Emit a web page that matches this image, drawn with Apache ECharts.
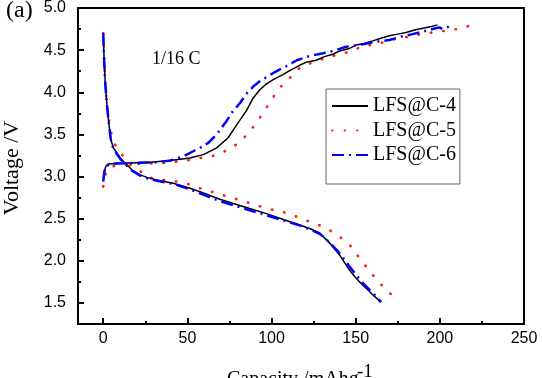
<!DOCTYPE html>
<html>
<head>
<meta charset="utf-8">
<script src="https://cdn.jsdelivr.net/npm/echarts@6/dist/echarts.min.js"></script>
<style>
  html, body { margin: 0; padding: 0; background: #fff; }
  #chart { width: 542px; height: 378px; }
</style>
</head>
<body>
<div id="chart"></div>
<script>
// capacity (mAh/g), voltage (V)
var c4Charge = [[0,2.97],[0.5,3.05],[1.5,3.12],[3,3.15],[8,3.155],[15,3.16],[27.8,3.17],[39.7,3.19],[51.5,3.22],[59.5,3.26],[67.4,3.34],[74.2,3.46],[78.2,3.58],[81.2,3.67],[85,3.78],[89,3.93],[93,4.03],[97,4.1],[101,4.15],[106.8,4.21],[111,4.26],[116.7,4.32],[121,4.36],[126.6,4.38],[131,4.42],[136.4,4.45],[140.4,4.49],[146.3,4.52],[150.3,4.56],[155,4.58],[160.1,4.61],[165,4.64],[170,4.67],[175,4.69],[179.9,4.71],[185,4.74],[189.8,4.76],[195,4.78],[198.6,4.8]];
var c4Discharge = [[0,4.7],[0.5,4.4],[1.2,4.1],[2.2,3.85],[3.1,3.67],[4.5,3.44],[6,3.34],[8.1,3.28],[10.5,3.21],[13,3.16],[17,3.08],[21.9,3.02],[26,2.99],[31.8,2.96],[41.6,2.92],[51.5,2.86],[57.5,2.82],[69.3,2.73],[77.2,2.68],[87,2.62],[97,2.56],[107,2.49],[116.7,2.425],[123,2.38],[128.6,2.33],[134.5,2.21],[140.4,2.07],[146.3,1.89],[150,1.8],[154.2,1.71],[157,1.66],[161,1.58],[165.1,1.51]];

var c5Charge = [[0,2.88],[1.2,3.02],[3,3.1],[7.1,3.13],[21,3.15],[35.7,3.16],[49.6,3.19],[57.5,3.22],[64.4,3.24],[71.3,3.29],[74.2,3.32],[80.7,3.4],[86.1,3.51],[91,3.64],[95.9,3.78],[99.8,3.91],[104.7,4.05],[110.3,4.16],[116.7,4.29],[122.6,4.34],[129.6,4.39],[136.4,4.43],[146.3,4.48],[153.3,4.54],[161.1,4.57],[168.1,4.6],[175,4.64],[182,4.66],[188.8,4.69],[195.7,4.71],[203.2,4.73],[210.5,4.75],[214.5,4.77],[221,4.81]];
var c5Discharge = [[0,4.7],[0.5,4.4],[1.2,4.1],[2.2,3.85],[4.1,3.56],[7,3.38],[11.1,3.26],[16,3.14],[22.9,3.05],[28.8,2.98],[35.7,2.96],[43.7,2.94],[50.5,2.91],[57.5,2.86],[64.4,2.82],[69.3,2.79],[76.2,2.75],[83.1,2.71],[89,2.67],[96,2.63],[103.9,2.59],[110.8,2.56],[117.7,2.5],[124.6,2.45],[131.5,2.4],[137.4,2.33],[141.4,2.27],[147.3,2.17],[152.3,2.03],[157.8,1.89],[163.1,1.76],[168.4,1.65],[174,1.55]];

var c6Charge = [[0,2.94],[0.6,3.05],[1.5,3.12],[2.5,3.14],[5,3.155],[16,3.16],[31.8,3.17],[40,3.19],[47.6,3.24],[53.5,3.3],[57.5,3.34],[62.4,3.4],[67.4,3.5],[73.3,3.66],[77.2,3.78],[81.2,3.87],[85,3.98],[89.2,4.07],[93,4.13],[97,4.18],[102,4.24],[108.8,4.31],[115,4.38],[122.5,4.43],[130,4.46],[136.4,4.49],[144.4,4.54],[154.2,4.57],[162,4.6],[170,4.62],[177,4.66],[183.8,4.69],[190,4.72],[195.7,4.75],[199.6,4.77],[201.6,4.75],[204,4.77],[207,4.79]];
var c6Discharge = [[0,4.7],[0.5,4.4],[1.2,4.1],[2.2,3.85],[3.1,3.67],[4.5,3.44],[6,3.33],[8,3.27],[10.5,3.2],[13,3.15],[17,3.07],[22,3.01],[26,2.98],[32,2.95],[42,2.91],[51.5,2.85],[57.5,2.8],[69.3,2.71],[77,2.66],[87,2.6],[97,2.54],[107,2.48],[116.7,2.42],[123,2.37],[128.6,2.32],[134.5,2.22],[140,2.1],[146,1.94],[150,1.84],[154,1.74],[158,1.66],[162,1.58],[165,1.51]];

var seriesNames = ['LFS@C-4', 'LFS@C-5', 'LFS@C-6'];
var xLabels = [0, 50, 100, 150, 200, 250];
var xMinor = [25, 75, 125, 175, 225];
var yLabels = [1.5, 2.0, 2.5, 3.0, 3.5, 4.0, 4.5, 5.0];
var yMinor = [1.75, 2.25, 2.75, 3.25, 3.75, 4.25, 4.75];

var serif = 'Liberation Serif, Times New Roman, serif';
var sans = 'Liberation Sans, Arial, sans-serif';

var styles = [
  { color: '#000000', width: 1.5, type: 'solid' },
  { color: '#ff1a1a', width: 2.6, type: [0.5, 12], cap: 'round' },
  { color: '#0000ff', width: 2.5, type: [12, 5, 2, 5] }
];

function makeLine(name, data, st) {
  return {
    name: name,
    type: 'line',
    data: data,
    showSymbol: false,
    symbol: 'none',
    animation: false,
    color: st.color,
    lineStyle: { color: st.color, width: st.width, type: st.type, cap: st.cap || 'butt' }
  };
}

var chart = echarts.init(document.getElementById('chart'));

function valueAxis(min, max, pos, major, ticks, labels, len) {
  return {
    type: 'value', min: min, max: max, position: pos,
    axisLine: { show: major, onZero: false, lineStyle: { color: '#000', width: 2 } },
    axisTick: { show: true, inside: true, length: len, lineStyle: { color: '#000', width: 2 }, customValues: ticks },
    axisLabel: labels,
    splitLine: { show: false }
  };
}

chart.setOption({
  animation: false,
  grid: {
    left: 78, right: 18, top: 8, bottom: 54,
    containLabel: false, outerBoundsMode: 'none',
    show: true, borderColor: '#000', borderWidth: 2, backgroundColor: 'transparent'
  },
  legend: {
    data: seriesNames,
    orient: 'vertical',
    left: 326, top: 89,
    padding: [7, 4, 19, 5],
    itemWidth: 36, itemHeight: 14, itemGap: 4.5,
    borderColor: '#666', borderWidth: 1,
    itemStyle: { opacity: 0 },
    textStyle: { fontFamily: serif, fontSize: 20, lineHeight: 20, color: '#000' }
  },
  xAxis: [
    valueAxis(-15, 250, 'bottom', true, xLabels,
      { show: true, customValues: xLabels, margin: 7, color: '#000', fontSize: 16, fontFamily: sans }, 6),
    valueAxis(-15, 250, 'bottom', false, xMinor, { show: false }, 3)
  ],
  yAxis: [
    valueAxis(1.25, 5.0, 'left', true, yLabels,
      { show: true, customValues: yLabels, margin: 12, color: '#000', fontSize: 16, fontFamily: sans,
        formatter: function (v) { return v.toFixed(1); } }, 6),
    valueAxis(1.25, 5.0, 'left', false, yMinor, { show: false }, 3)
  ],
  series: [
    makeLine(seriesNames[1], c5Charge, styles[1]),
    makeLine(seriesNames[1], c5Discharge, styles[1]),
    makeLine(seriesNames[0], c4Charge, styles[0]),
    makeLine(seriesNames[0], c4Discharge, styles[0]),
    makeLine(seriesNames[2], c6Charge, styles[2]),
    makeLine(seriesNames[2], c6Discharge, styles[2])
  ],
  graphic: [
    { type: 'text', left: 6, top: -1, style: { text: '(a)', font: '24px ' + serif, fill: '#000' } },
    { type: 'text', left: 152, top: 50, style: { text: '1/16 C', font: '18px ' + serif, fill: '#000' } },
    {
      type: 'text', x: 12, y: 168, rotation: Math.PI / 2,
      style: { text: 'Voltage /V', font: '22px ' + serif, fill: '#000', align: 'center', verticalAlign: 'middle' }
    },
    { type: 'text', left: 227, top: 370, style: { text: 'Capacity /mAhg', font: '20px ' + serif, fill: '#000' } },
    { type: 'text', left: 357, top: 363, style: { text: '-1', font: '19px ' + serif, fill: '#000' } }
  ]
});
</script>
</body>
</html>
